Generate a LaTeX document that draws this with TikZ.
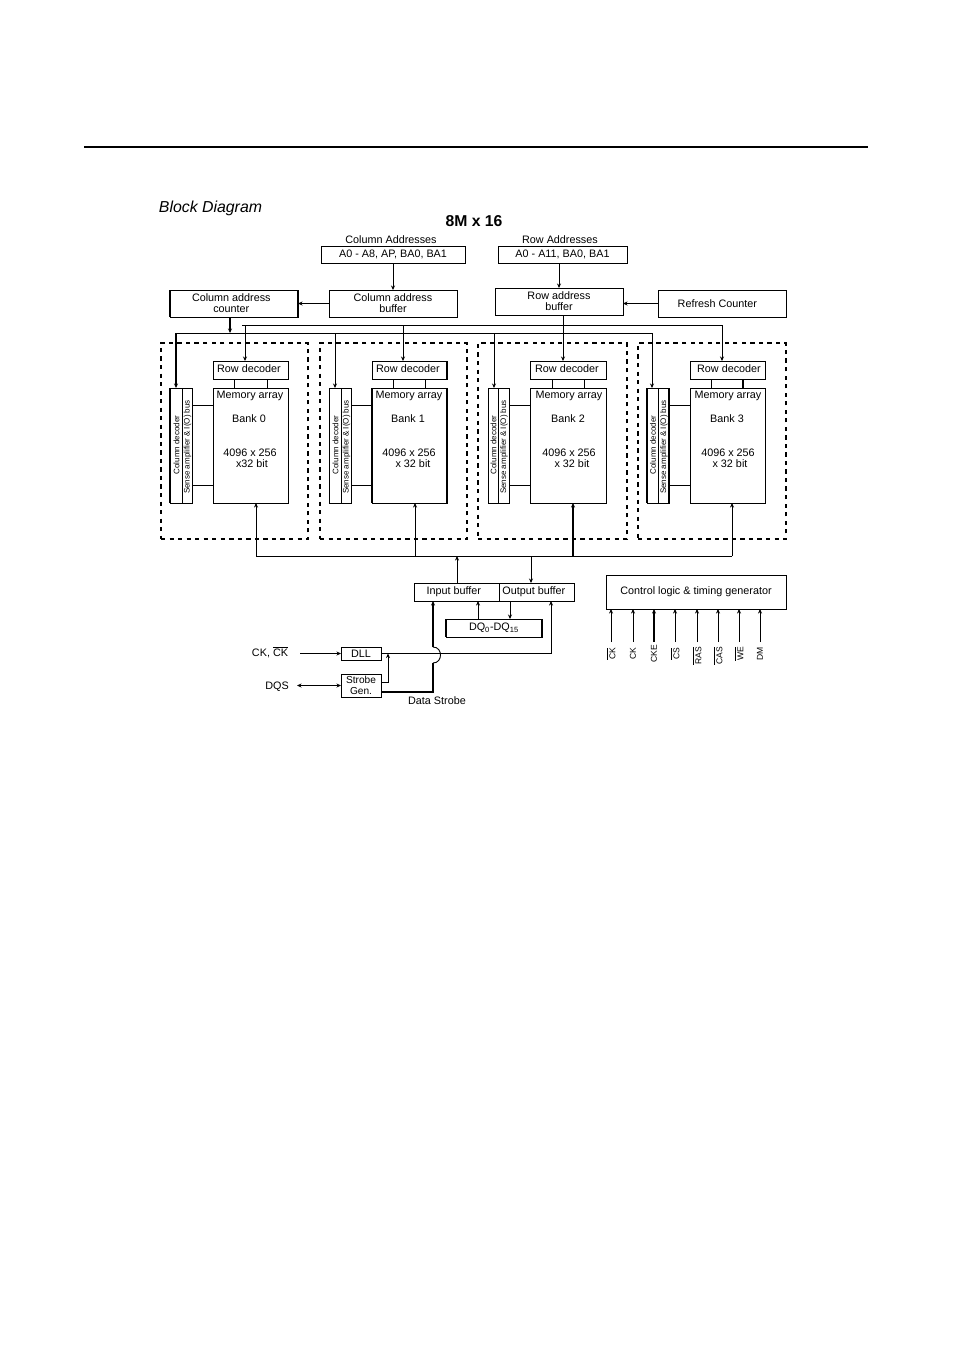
\documentclass[tikz,border=0pt]{standalone}
\usepackage{fontspec}
\setmainfont{Liberation Sans}
\usetikzlibrary{arrows.meta}
\newcommand{\bx}[7][]{%
  \pgfmathsetmacro{\bxcx}{(#3+#5)/2}%
  \pgfmathsetmacro{\bxcy}{(#4+#6)/2}%
  \pgfmathsetmacro{\bxw}{abs(#5-#3)*0.75}%
  \pgfmathsetmacro{\bxh}{abs(#6-#4)*0.75}%
  \node[boxn,minimum width=\bxw pt,minimum height=\bxh pt,#1] (#2) at (\bxcx,\bxcy) {#7};}
\newcommand{\ovl}[1]{$\overline{\mbox{#1}}$}
\tikzset{
  x=0.75pt,y=-0.75pt,
  boxn/.style={draw=black,line width=0.68pt,inner sep=0pt,outer sep=0pt,align=center,font=\fontsize{8.1}{8.2}\selectfont},
  txt/.style={inner sep=0pt,align=center,font=\fontsize{8.1}{8.2}\selectfont},
  vtxt/.style={inner sep=0pt,rotate=90,font=\fontsize{6}{7}\selectfont},
  ptxt/.style={inner sep=0pt,rotate=90,font=\fontsize{6.4}{7}\selectfont},
  wire/.style={line width=0.68pt,draw=black},
  bus/.style={line width=1.6pt,draw=black},
  edge/.style={line width=1.3pt,draw=black},
  tip/.style={-{Stealth[length=3.4pt,width=3pt]}},
  bank/.style={draw=black,line width=0.85pt,dash pattern=on 3.2pt off 3.2pt,inner sep=0pt},
}
\begin{document}
\begin{tikzpicture}
\useasboundingbox (0,0) rectangle (954,1350);
\fill[white] (0,0) rectangle (954,1350);
% page rule
\coordinate (ruleL) at (84,147);
\coordinate (ruleR) at (868,147);
\draw[line width=1.4pt] (ruleL) -- (ruleR);
\node[inner sep=0pt,font=\fontsize{11.9}{13}\selectfont\itshape] (title) at (210.5,208) {Block Diagram};
\node[inner sep=0pt,font=\fontsize{11.8}{13}\selectfont\bfseries] (sub) at (474,221) {8M x 16};
% dashed bank frames
\bx[bank]{f0}{161}{343}{308}{539}{}
\bx[bank]{f1}{320}{343}{467}{539}{}
\bx[bank]{f2}{478}{343}{627}{539}{}
\bx[bank]{f3}{638}{343}{786}{539}{}
% address blocks
\node[txt] (cat) at (391,240) {Column Addresses};
\node[txt] (rat) at (560,240) {Row Addresses};
\bx{ca}{321}{246}{465}{263}{A0 - A8, AP, BA0, BA1}
\bx{ra}{498}{246}{627}{263}{A0 - A11, BA0, BA1}
\bx{cb}{329}{290}{457}{317}{Column address\\buffer}
\bx{cc}{170}{290}{298}{317}{Column address\hspace*{4pt}\\counter\hspace*{4pt}}
\draw[edge] (cc.north west) -- (cc.south west);
\draw[edge] (cc.north east) -- (cc.south east);
\bx{rb}{495}{288}{623}{315}{Row address\\buffer}
\bx{rc}{658}{290}{786}{317}{Refresh Counter\hspace*{7pt}}
% bus coordinates
\coordinate (ubL) at (242,325);
\coordinate (ubR) at (722,325);
\coordinate (lbL) at (176,333);
\coordinate (lbR) at (652,333);
\coordinate (lb1) at (335,333);
\coordinate (lb2) at (494,333);
\coordinate (ub0) at (245,325);
\coordinate (ub1) at (403,325);
\coordinate (ub2) at (563,325);
\draw[wire] (ubL) -- (ubR);
\draw[wire] (lbL) -- (lbR);
\draw[wire,tip] (ca.south -| cb.north) -- (cb.north);
\draw[wire,tip] (cb.west) -- (cc.east);
\draw[wire,tip] (ra.south -| rb.north) -- (rb.north);
\draw[wire,tip] (rc.west) -- (rc.west -| rb.east);
\coordinate (ccd) at (230,333);
\draw[bus,tip] (cc.south -| ccd) -- (ccd);
% banks
\foreach \n/\cl/\cm/\cr/\xa/\xb/\ca/\cb/\mx/\bxp/\sx/\sl/\ln/\mxb in {%
  0/170/182/192/213/288/234/267/250/249/252/x32 bit/Bank 0/249,%
  1/329/341/351/372/447/393/425/409/408/413/x 32 bit/Bank 1/408,%
  2/488/498/509/530/606/552/584/569/568/572/x 32 bit/Bank 2/567,%
  3/647/658/669/690/765/711/743/728/727/730/x 32 bit/Bank 3/729}{
  \bx{rd\n}{\xa}{361}{\xb}{379}{}
  \node[txt] (rdt\n) at (\mxb,369) {Row decoder};
  \bx{ma\n}{\xa}{388}{\xb}{503}{}
  \node[txt] (mat\n) at (\mx,396) {Memory array};
  \node[txt] (bk\n) at (\bxp,419) {\ln};
  \node[txt] (sz\n) at (\mx,453) {4096 x 256};
  \node[txt] (bt\n) at (\sx,464) {\sl};
  \bx{cd\n}{\cl}{388}{\cm}{503}{}
  \bx{sa\n}{\cm}{388}{\cr}{503}{}
  \pgfmathsetmacro{\cdt}{(\cl+\cm)/2+0.5}
  \pgfmathsetmacro{\sat}{(\cm+\cr)/2+0.5}
  \node[vtxt] (cdt\n) at (\cdt,445) {Column decoder};
  \node[vtxt] (sat\n) at (\sat,447) {Sense amplifier \& I(O) bus};
  \coordinate (c1\n) at (\ca,379);
  \coordinate (c2\n) at (\cb,379);
  \draw[wire] (c1\n) -- (c1\n |- ma\n.north);
  \draw[wire] (c2\n) -- (c2\n |- ma\n.north);
  \coordinate (s1\n) at (\cr,405);
  \coordinate (s2\n) at (\cr,485);
  \draw[wire] (s1\n) -- (s1\n -| ma\n.west);
  \draw[wire] (s2\n) -- (s2\n -| ma\n.west);
}
% heavier edges
\draw[edge] (cd0.north west) -- (cd0.south west);
\draw[edge] (ma1.north west) -- (ma1.south west);
\draw[edge] (ma1.north east) -- (ma1.south east);
\draw[edge] (rd1.north east) -- (rd1.south east);
\draw[edge] (cd3.north west) -- (cd3.south west);
\draw[edge] (sa3.north east) -- (sa3.south east);
\draw[edge] (c23) -- (c23 |- ma3.north);
% decoder feeds
\draw[bus,tip] (lbL) -- (lbL |- cd0.north);
\draw[wire,tip] (lb1) -- (lb1 |- cd1.north);
\draw[wire,tip] (lb2) -- (lb2 |- cd2.north);
\draw[wire,tip] (lbR) -- (lbR |- cd3.north);
\draw[wire,tip] (ub0) -- (ub0 |- rd0.north);
\draw[wire,tip] (ub1) -- (ub1 |- rd1.north);
\draw[wire,tip] (rb.south -| ub2) -- (ub2 |- rd2.north);
\draw[wire,tip] (ubR) -- (ubR |- rd3.north);
% data bus
\coordinate (db0) at (256,556);
\coordinate (db1) at (415,556);
\coordinate (db2) at (573,556);
\coordinate (db3) at (732,556);
\draw[wire] (db0) -- (db3);
\draw[wire,tip] (db0) -- (db0 |- ma0.south);
\draw[wire,tip] (db1) -- (db1 |- ma1.south);
\draw[bus,tip] (db2) -- (db2 |- ma2.south);
\draw[wire,tip] (db3) -- (db3 |- ma3.south);
% buffers
\bx{ib}{414}{583}{499}{601}{Input buffer\hspace*{4pt}}
\bx{ob}{499}{583}{574}{601}{Output buffer\hspace*{4pt}}
\bx{dq}{446}{619}{542}{637}{DQ\textsubscript{0}-DQ\textsubscript{15}}
\draw[edge] (dq.north west) -- (dq.south west);
\draw[edge] (dq.north east) -- (dq.south east);
\coordinate (ibt) at (457,556);
\coordinate (obt) at (531,556);
\draw[wire,tip] (ibt |- ib.north) -- (ibt);
\draw[wire,tip] (obt) -- (obt |- ob.north);
\coordinate (dqa) at (478,619);
\coordinate (dqb) at (510,619);
\draw[wire,tip] (dqa) -- (dqa |- ib.south);
\draw[wire,tip] (dqb |- ob.south) -- (dqb);
% clock section
\bx{dll}{341}{647}{381}{660}{DLL}
\bx[font=\fontsize{7.6}{7.8}\selectfont]{sg}{341}{674}{381}{697}{Strobe\\Gen.}
\node[txt] (ckl) at (270,652) {CK, \ovl{CK}};
\node[txt] (dqsl) at (277,687) {DQS};
\node[txt] (dsl) at (437,701) {Data Strobe};
\coordinate (cks) at (300,653.5);
\coordinate (dqss) at (297,685.5);
\draw[wire,tip] (cks) -- (cks -| dll.west);
\draw[wire,{Stealth[length=3.4pt,width=3pt]}-{Stealth[length=3.4pt,width=3pt]}] (dqss) -- (dqss -| sg.west);
\coordinate (jt) at (433,647);
\coordinate (jb) at (433,663);
\coordinate (obr) at (551,653.5);
\draw[wire,tip] (dll.east) -- (obr) -- (obr |- ob.south);
\coordinate (brt) at (388,653.5);
\coordinate (brs) at (381,682);
\draw[wire,tip] (brs) -- (brs -| brt) -- (brt);
\coordinate (sgo) at (381,692);
\draw[bus] (sgo) -- (sgo -| jb) -- (jb);
\draw[bus,tip] (jt) -- (jt |- ib.south);
\draw[wire] (jt) .. controls (443,647) and (443,663) .. (jb);
% control logic
\bx{cl}{606}{575}{786}{609}{Control logic \& timing generator}
\foreach \i/\x/\lb/\st/\yy in {0/611/\ovl{CK}/wire/654,1/633/CK/wire/654,2/654/CKE/bus/654,3/675/\ovl{CS}/wire/654,4/697/\ovl{RAS}/wire/656,5/718/\ovl{CAS}/wire/656,6/739/\ovl{WE}/wire/654,7/760/DM/wire/654}{
  \coordinate (in\i) at (\x,642);
  \draw[\st,tip] (in\i) -- (in\i |- cl.south);
  \node[ptxt] (il\i) at (\x,\yy) {\lb};
}
\end{tikzpicture}
\end{document}
